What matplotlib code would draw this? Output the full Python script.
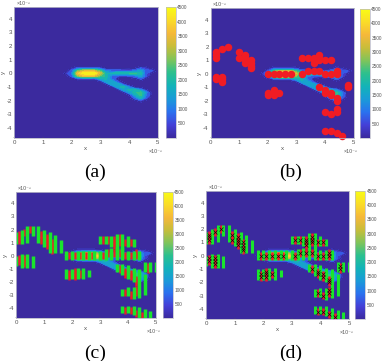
# -*- coding: utf-8 -*-
import numpy as np
import matplotlib
matplotlib.use("Agg")
import matplotlib.pyplot as plt
from matplotlib.colors import LinearSegmentedColormap, Normalize
from matplotlib.cm import ScalarMappable

W, H = 383, 361
plt.rcParams["axes.unicode_minus"] = False
plt.rcParams["font.family"] = ["Liberation Sans", "DejaVu Sans"]

# heat map, x and y in units of 1e-3
grid_x = [1.6, 1.8, 2.0, 2.2, 2.4, 2.6, 2.8, 3.0, 3.2, 3.4, 3.6, 3.8, 4.0, 4.2, 4.4, 4.6, 4.8, 5.0]
grid_y = [0.6, 0.4, 0.2, 0.0, -0.2, -0.4, -0.6, -0.8, -1.0, -1.2, -1.4, -1.6, -1.8, -2.0, -2.2]
heat = [
    [0, 0, 0, 0, 0, 0, 0, 0, 0, 0, 0, 0, 0, 0, 0, 0, 0, 0],
    [0, 0, 200, 500, 500, 500, 500, 400, 100, 50, 0, 0, 0, 100, 500, 300, 0, 0],
    [0, 0, 600, 2300, 3100, 3200, 3100, 2200, 900, 700, 700, 600, 500, 800, 1500, 600, 500, 0],
    [0, 300, 900, 3500, 4300, 4500, 4400, 3200, 1700, 1800, 1900, 2000, 2100, 2200, 1900, 500, 100, 0],
    [0, 0, 600, 2600, 3400, 3500, 3300, 2400, 2000, 800, 500, 400, 500, 800, 1500, 500, 0, 0],
    [0, 0, 100, 400, 500, 500, 500, 1500, 1800, 800, 100, 0, 0, 100, 600, 100, 0, 0],
    [0, 0, 0, 0, 0, 0, 0, 200, 1500, 1500, 500, 0, 0, 0, 0, 0, 0, 0],
    [0, 0, 0, 0, 0, 0, 0, 0, 200, 1500, 1700, 500, 0, 0, 0, 0, 0, 0],
    [0, 0, 0, 0, 0, 0, 0, 0, 0, 200, 1500, 1900, 900, 100, 0, 0, 0, 0],
    [0, 0, 0, 0, 0, 0, 0, 0, 0, 0, 200, 1400, 1800, 1700, 1000, 200, 0, 0],
    [0, 0, 0, 0, 0, 0, 0, 0, 0, 0, 0, 200, 1300, 2000, 2300, 1000, 0, 0],
    [0, 0, 0, 0, 0, 0, 0, 0, 0, 0, 0, 0, 200, 1500, 2200, 900, 0, 0],
    [0, 0, 0, 0, 0, 0, 0, 0, 0, 0, 0, 0, 0, 800, 1800, 500, 0, 0],
    [0, 0, 0, 0, 0, 0, 0, 0, 0, 0, 0, 0, 0, 100, 500, 100, 0, 0],
    [0, 0, 0, 0, 0, 0, 0, 0, 0, 0, 0, 0, 0, 0, 0, 0, 0, 0],
]
heat_levels = [200, 500, 900, 1300, 1700, 2100, 2500, 2900, 3300, 3700, 4100, 4500]
cbar_ticks = [500, 1000, 1500, 2000, 2500, 3000, 3500, 4000, 4500]
x_ticks = [0, 1, 2, 3, 4, 5]
y_ticks = [-4, -3, -2, -1, 0, 1, 2, 3, 4]

# red points
red_x = [0.2, 0.2, 0.2, 0.4, 0.6, 1.0, 1.0, 1.2, 1.2, 1.2, 1.2, 1.4, 1.4, 1.4, 1.4,
         0.2, 0.2, 0.4, 0.4, 0.4,
         2.0, 2.2, 2.4, 2.6, 2.8, 3.2, 3.4, 3.6, 3.8, 4.0, 4.2, 4.4, 4.4,
         3.2, 3.4, 3.6, 3.8, 3.8, 3.6, 3.6, 3.8, 4.0, 4.2,
         2.0, 2.0, 2.2, 2.2, 2.2, 2.4,
         3.8, 4.0, 4.0, 4.2, 4.2, 4.4, 4.4,
         4.8, 4.8,
         4.0, 4.2, 4.4, 4.4,
         4.0, 4.2, 4.4, 4.6]
red_y = [1.2, 1.4, 1.6, 1.8, 2.0, 1.6, 1.2, 1.4, 1.2, 1.0, 0.8, 1.0, 0.8, 0.6, 0.4,
         -0.2, -0.4, -0.2, -0.4, -0.6,
         0.0, 0.0, 0.0, 0.0, 0.0, 0.0, 0.2, 0.2, 0.2, 0.0, 0.0, 0.2, 0.0,
         1.2, 1.2, 1.2, 1.2, 1.4, 0.8, 1.0, 1.0, 1.0, 1.0,
         -1.4, -1.6, -1.2, -1.4, -1.6, -1.4,
         -1.0, -1.2, -1.4, -1.4, -1.6, -1.8, -2.0,
         -0.8, -1.0,
         -2.8, -3.0, -2.6, -2.8,
         -4.2, -4.2, -4.4, -4.6]

# green columns: x, lower and upper end
green_x = [0.0, 0.2, 0.4, 0.6, 0.8, 1.0, 1.2, 1.4, 1.6,
           0.0, 0.2, 0.4, 0.6,
           1.8, 2.0, 2.2, 2.4, 2.6, 2.8, 3.0, 3.2, 3.4, 3.6, 3.8, 4.0, 4.2, 4.4,
           3.0, 3.2, 3.4, 3.6, 3.8, 4.0, 4.2,
           1.8, 2.0, 2.2, 2.4, 2.6,
           3.6, 3.8, 4.0, 4.2, 4.4, 4.6,
           4.6, 4.8, 5.0,
           3.8, 4.0, 4.2,
           3.8, 4.0, 4.2, 4.4, 4.6, 4.8]
green_lo = [0.9, 0.9, 1.0, 1.5, 1.0, 0.7, 0.2, 0.2, 0.2,
            -0.8, -0.9, -0.9, -0.9,
            -0.3, -0.3, -0.3, -0.3, -0.3, -0.3, -0.3, -0.3, -0.3, -0.3, -0.3, -0.3, -0.3, -0.3,
            0.9, 0.9, 0.7, 0.3, 0.3, 0.7, 0.7,
            -1.8, -1.8, -1.8, -1.8, -1.6,
            -1.2, -1.5, -1.8, -2.0, -3.2, -3.0,
            -1.2, -1.2, -1.2,
            -3.1, -3.1, -3.3,
            -4.4, -4.4, -4.5, -4.75, -4.75, -4.75]
green_hi = [1.8, 2.0, 2.3, 2.3, 2.3, 2.0, 1.8, 1.6, 1.2,
            0.0, 0.1, 0.1, 0.0,
            0.4, 0.4, 0.4, 0.4, 0.4, 0.4, 0.4, 0.5, 0.6, 0.7, 0.7, 0.4, 0.4, 0.4,
            1.5, 1.5, 1.5, 1.7, 1.7, 1.5, 1.3,
            -1.0, -1.0, -0.9, -0.9, -1.1,
            -0.6, -0.6, -0.7, -0.9, -1.0, -1.4,
            -0.5, -0.5, -0.5,
            -2.5, -2.4, -2.4,
            -3.8, -3.8, -3.8, -3.9, -4.1, -4.2]

parula = LinearSegmentedColormap.from_list("parula_like", [
    "#3b2a9e", "#4440d8", "#2a72ef", "#1a9bd8", "#12b3b8",
    "#2cc08e", "#80c45a", "#c8bd3a", "#f5b83a", "#fadc28", "#f9fb15"])
norm = Normalize(0, 4500)

fig = plt.figure(figsize=(W / 100, H / 100), dpi=100)


def add_box(left, top, right, bottom):
    return fig.add_axes([left / W, 1 - bottom / H, (right - left) / W, (bottom - top) / H])


def draw_panel(box, cbox, caption, cap_xy):
    ax = add_box(*box)
    ax.set_facecolor("#3b2a9e")
    ax.contourf(grid_x, grid_y, heat, levels=heat_levels, cmap=parula, norm=norm)
    ax.contour(grid_x, grid_y, heat, levels=[200], colors="#24206a", linewidths=0.3)
    ax.set_xlim(0, 5)
    ax.set_ylim(-4.75, 4.87)
    ax.set_xticks(x_ticks)
    ax.set_yticks(y_ticks)
    ax.tick_params(labelsize=4.4, length=1, width=0.3, pad=1.5, colors="#555555", direction="in")
    ax.set_xlabel("x", fontsize=4.4, color="#555555", labelpad=1)
    ax.set_ylabel("y", fontsize=4.4, color="#555555", labelpad=0.5, rotation=90)
    for s in ax.spines.values():
        s.set_color("#b8b8c8")
        s.set_linewidth(0.6)
    ax.text(0.015, 1.004, "×10⁻³", transform=ax.transAxes, fontsize=3.8, color="#555555", va="bottom")
    ax.text(0.98, -0.085, "×10⁻³", transform=ax.transAxes, fontsize=3.8, color="#555555", va="top", ha="center")

    cax = add_box(*cbox)
    cb = fig.colorbar(ScalarMappable(norm=norm, cmap=parula), cax=cax, ticks=cbar_ticks)
    cb.ax.tick_params(labelsize=3.4, length=0, pad=1, colors="#555555")
    cb.outline.set_edgecolor("#b8b8c8")
    cb.outline.set_linewidth(0.5)

    fig.text(cap_xy[0] / W, 1 - cap_xy[1] / H, caption, fontsize=14, family="Liberation Serif",
             ha="center", va="center", color="black")
    return ax


ax_a = draw_panel((14, 7, 158, 138), (165.5, 7, 176, 138), "(a)", (95, 172))

ax_b = draw_panel((210.7, 8, 353.7, 138), (360, 9, 370, 138), "(b)", (291, 172))
ax_b.plot(red_x, red_y, "o", color="#f01c24", ms=5.4, mew=0, clip_on=False)

# red sits under the green columns and shows in the gaps between them
red_cx = np.array(red_x) - 0.1
red_cy = np.array(red_y)

ax_c = draw_panel((16, 192, 156, 318), (162.5, 192, 173, 318), "(c)", (95, 353))
ax_c.vlines(red_cx, red_cy - 0.28, red_cy + 0.28, color="#f01c24", lw=1.8, capstyle="butt")
ax_c.vlines(green_x, green_lo, green_hi, color="#19e52c", lw=2.5, capstyle="butt")

ax_d = draw_panel((206.3, 191, 349, 319), (355.3, 191, 365.3, 319), "(d)", (291, 353))
ax_d.vlines(red_cx, red_cy - 0.28, red_cy + 0.28, color="#f01c24", lw=1.8, capstyle="butt")
ax_d.vlines(green_x, green_lo, green_hi, color="#19e52c", lw=2.2, capstyle="butt")
ax_d.plot(red_cx, red_cy, "x", color="#111111", ms=2.4, mew=0.5)

fig.savefig("out.png", dpi=100)
